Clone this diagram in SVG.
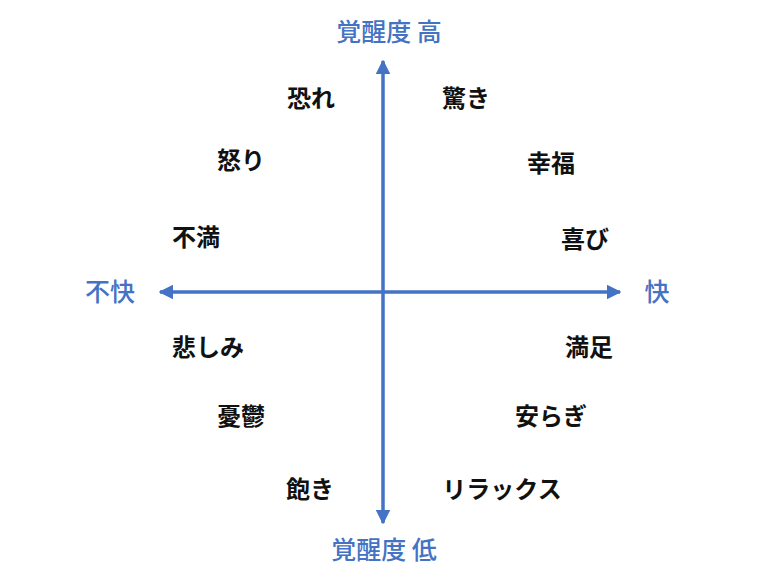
<svg xmlns="http://www.w3.org/2000/svg" width="780" height="585" viewBox="0 0 780 585">
<defs>
<marker id="ah" viewBox="0 0 10 10" refX="9" refY="5" markerWidth="4.2" markerHeight="4.2" orient="auto" markerUnits="strokeWidth">
<path d="M0,0 L10,5 L0,10 z" fill="#4472C4"/>
</marker>
<style>
.ax{stroke:#4472C4;stroke-width:3.5;fill:none}
.al{font-family:"Noto Sans CJK JP",sans-serif;font-size:25px;font-weight:500;fill:#4472C4;text-anchor:middle;dominant-baseline:central}
.em{font-family:"Noto Sans CJK JP",sans-serif;font-size:24px;font-weight:bold;fill:#111;text-anchor:middle;dominant-baseline:central}
</style>
</defs>
<rect width="780" height="585" fill="#fff"/>
<g id="connectors">
<line class="ax" x1="383" y1="292" x2="383" y2="61" marker-end="url(#ah)"/>
<line class="ax" x1="383" y1="292" x2="383" y2="523" marker-end="url(#ah)"/>
<line class="ax" x1="383" y1="292" x2="160" y2="292" marker-end="url(#ah)"/>
<line class="ax" x1="383" y1="292" x2="620" y2="292" marker-end="url(#ah)"/>
</g>
<g id="axis-high"><text class="al" x="389" y="30">覚醒度 高</text></g>
<g id="axis-low"><text class="al" x="384" y="548">覚醒度 低</text></g>
<g id="axis-unpleasant"><text class="al" x="110" y="290">不快</text></g>
<g id="axis-pleasant"><text class="al" x="657" y="290">快</text></g>
<g id="fear"><text class="em" x="311" y="96">恐れ</text></g>
<g id="surprise"><text class="em" x="466" y="96">驚き</text></g>
<g id="anger"><text class="em" x="241" y="158">怒り</text></g>
<g id="happiness"><text class="em" x="551" y="161">幸福</text></g>
<g id="discontent"><text class="em" x="196" y="235">不満</text></g>
<g id="joy"><text class="em" x="585" y="237">喜び</text></g>
<g id="sadness"><text class="em" x="208" y="345">悲しみ</text></g>
<g id="satisfaction"><text class="em" x="589" y="345">満足</text></g>
<g id="depression"><text class="em" x="241" y="414">憂鬱</text></g>
<g id="calm"><text class="em" x="551" y="414">安らぎ</text></g>
<g id="boredom"><text class="em" x="310" y="487">飽き</text></g>
<g id="relax"><text class="em" x="502" y="487">リラックス</text></g>
</svg>
